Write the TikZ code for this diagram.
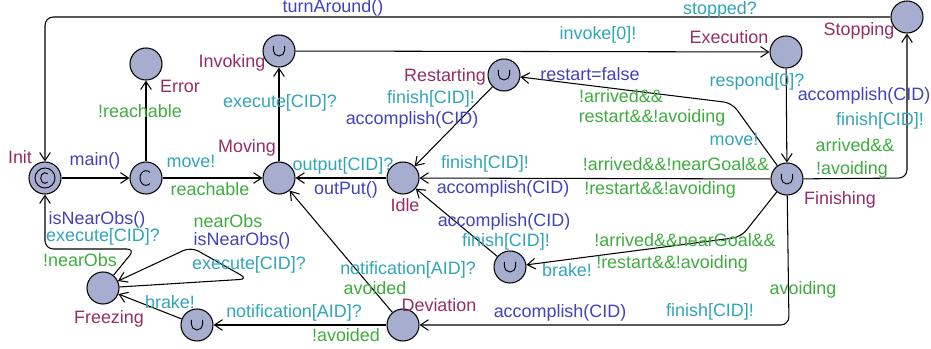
\documentclass[tikz,border=0pt]{standalone}
\usepackage{fontspec}
\setmainfont{Liberation Sans}
\usetikzlibrary{arrows.meta,calc}
\definecolor{cLoc}  {RGB}{166,173,206}
\definecolor{cName} {RGB}{150,45,100}
\definecolor{cGuard}{RGB}{62,172,62}
\definecolor{cSync} {RGB}{48,165,185}
\definecolor{cUpd}  {RGB}{66,66,185}

\begin{document}
\begin{tikzpicture}[
    x=0.03cm, y=-0.03cm,
    every node/.style={font=\fontsize{15.3}{18}\selectfont},
    loc/.style={circle, draw, fill=cLoc, minimum size=0.96cm, inner sep=0pt,
                line width=0.9pt},
    % committed locations carry a thin C
    committed/.style={loc, path picture={\draw[line width=0.8pt]
        ($(path picture bounding box.center)+(50:0.18cm and 0.22cm)$)
        arc[start angle=50, end angle=310, x radius=0.18cm, y radius=0.22cm];}},
    % urgent locations carry a small cup sign
    urgent/.style={loc, path picture={\draw[line width=0.8pt]
        ($(path picture bounding box.center)+(-0.17cm,0.15cm)$) -- ++(0cm,-0.13cm)
        arc[start angle=180, end angle=360, radius=0.17cm] -- ++(0cm,0.13cm);}},
    initial/.style={loc, path picture={\draw[line width=0.8pt]
        (path picture bounding box.center) circle[radius=0.3cm]
        ($(path picture bounding box.center)+(50:0.13cm and 0.16cm)$)
        arc[start angle=50, end angle=310, x radius=0.13cm, y radius=0.16cm];}},
    lname/.style={text=cName, inner sep=0pt},
    guard/.style={text=cGuard, inner sep=0pt},
    sync/.style={text=cSync, inner sep=0pt},
    upd/.style={text=cUpd, inner sep=0pt},
    edge/.style={-{Straight Barb[length=2.4mm,width=3.2mm]}, line width=0.9pt,
                 rounded corners=0.25cm},
]
\useasboundingbox (0,0) rectangle (931,349);

% --- Locations
\node[initial]   (init) at (45,178)  {};
\node[committed] (cmt)  at (146,178) {};
\node[loc]       (err)  at (146,64)  {};
\node[loc]       (mov)  at (279,178) {};
\node[urgent]    (inv)  at (279,51)  {};
\node[loc]       (exe)  at (786,52)  {};
\node[loc]       (stp)  at (907,17)  {};
\node[urgent]    (rst)  at (504,75)  {};
\node[loc]       (idl)  at (403,178) {};
\node[urgent]    (fin)  at (787,179) {};
\node[loc]       (frz)  at (103,288) {};
\node[urgent]    (brk)  at (197,325) {};
\node[loc]       (dev)  at (403,325) {};
\node[urgent]    (mid)  at (510,267) {};

% --- Location names
\node[lname] (nInit) at (20,157)  {Init};
\node[lname] (nErr)  at (180,86)  {Error};
\node[lname] (nMov)  at (247,148) {Moving};
\node[lname] (nInv)  at (232,63)  {Invoking};
\node[lname] (nExe)  at (729,37)  {Execution};
\node[lname] (nStp)  at (859,31)  {Stopping};
\node[lname] (nRst)  at (445,77)  {Restarting};
\node[lname] (nIdl)  at (405,205) {Idle};
\node[lname] (nFin)  at (840,200) {Finishing};
\node[lname] (nFrz)  at (109,319) {Freezing};
\node[lname] (nDev)  at (439,305) {Deviation};

% --- Edges
\draw[edge] (init) -- (cmt);
\draw[edge] (cmt) -- (err);
\draw[edge] (cmt) -- (mov);
\draw[edge] (mov) -- (inv);
\draw[edge] (inv) -- (exe);
\draw[edge] (exe) -- (fin);
\draw[edge] (fin) -- (907,178) -- (stp);
\draw[edge] (stp) -- (45,17) -- (init);
\draw[edge] (fin) -- (732,103) -- (rst);
\draw[edge] (rst) -- (idl);
\draw[edge] (fin) -- (idl);
\draw[edge] (idl) -- (mov);
\draw[edge] (fin) -- (741,237) -- (mid);
\draw[edge] (mid) -- (idl);
\draw[edge] (fin) -- (789,325) -- (dev);
\draw[edge] (dev) -- (mov);
\draw[edge] (dev) -- (brk);
\draw[edge] (brk) -- (frz);
\draw[edge] (frz) -- (248,279) -- (191,247) -- (frz);
\draw[edge] (frz) -- (135,249) -- (45,249) -- (init);

% --- Edge labels
\node[upd]   (lMain)  at (95,161)  {main()};
\node[guard] (lNrch)  at (140,111) {!reachable};
\node[sync]  (lMove1) at (191,161) {move!};
\node[guard] (lRch)   at (210,189) {reachable};
\node[sync]  (lExe1)  at (280,103) {execute[CID]?};
\node[sync]  (lInvk)  at (598,35)  {invoke[0]!};
\node[sync]  (lResp)  at (757,82)  {respond[0]?};
\node[upd]   (lTurn)  at (333,8)   {turnAround()};
\node[sync]  (lStop)  at (720,10)  {stopped?};
\node[upd]   (lAcc1)  at (864,96)  {accomplish(CID)};
\node[sync]  (lFin1)  at (880,121) {finish[CID]!};
\node[guard] (lArr1)  at (855,145) {arrived\&\&};
\node[guard] (lAvd1)  at (852,170) {!avoiding};
\node[upd]   (lRfal)  at (590,74)  {restart=false};
\node[guard] (lArr2)  at (621,96)  {!arrived\&\&};
\node[guard] (lRst2)  at (652,118) {restart\&\&!avoiding};
\node[sync]  (lMove2) at (734,139) {move!};
\node[sync]  (lFin2)  at (431,99)  {finish[CID]!};
\node[upd]   (lAcc2)  at (412,120) {accomplish(CID)};
\node[sync]  (lFin3)  at (485,164) {finish[CID]!};
\node[upd]   (lAcc3)  at (503,189) {accomplish(CID)};
\node[guard] (lArr3)  at (676,164) {!arrived\&\&!nearGoal\&\&};
\node[guard] (lRst3)  at (660,190) {!restart\&\&!avoiding};
\node[sync]  (lOut)   at (343,166) {output[CID]?};
\node[upd]   (lOutP)  at (346,190) {outPut()};
\node[upd]   (lAcc4)  at (504,222) {accomplish(CID)};
\node[sync]  (lFin4)  at (506,242) {finish[CID]!};
\node[guard] (lArr4)  at (685,240) {!arrived\&\&nearGoal\&\&};
\node[guard] (lRst4)  at (672,264) {!restart\&\&!avoiding};
\node[sync]  (lBrk1)  at (567,270) {brake!};
\node[guard] (lAvdg)  at (803,290) {avoiding};
\node[sync]  (lFin5)  at (710,312) {finish[CID]!};
\node[upd]   (lAcc5)  at (560,313) {accomplish(CID)};
\node[sync]  (lNot1)  at (408,270) {notification[AID]?};
\node[guard] (lAvd2)  at (375,288) {avoided};
\node[sync]  (lNot2)  at (294,313) {notification[AID]?};
\node[guard] (lAvd3)  at (346,335) {!avoided};
\node[sync]  (lBrk2)  at (170,302) {brake!};
\node[guard] (lNear)  at (228,221) {nearObs};
\node[upd]   (lIsN1)  at (242,241) {isNearObs()};
\node[sync]  (lExe2)  at (249,265) {execute[CID]?};
\node[upd]   (lIsN2)  at (97,220)  {isNearObs()};
\node[sync]  (lExe3)  at (103,237) {execute[CID]?};
\node[guard] (lNNear) at (80,260)  {!nearObs};
\end{tikzpicture}
\end{document}
